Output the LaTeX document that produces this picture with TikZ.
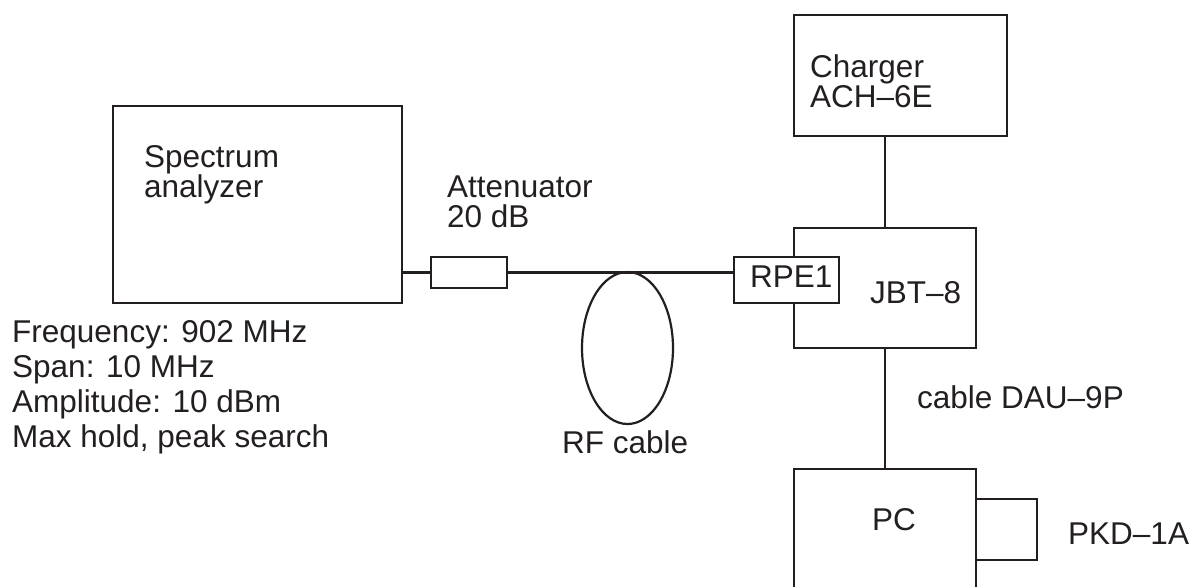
\documentclass[tikz,border=0pt]{standalone}
\usepackage{fontspec}
\setmainfont{Liberation Sans}
\usetikzlibrary{shapes.geometric}
\definecolor{ink}{HTML}{231F20}
\begin{document}
\begin{tikzpicture}[x=1pt,y=-1pt,
  box/.style={draw=ink, line width=2.2pt, rectangle, inner sep=0pt},
  lbl/.style={anchor=base west, inner sep=0pt, text=ink, font=\fontsize{31.5}{30}\selectfont, align=left},
  wire/.style={draw=ink, line width=2.2pt}]
\useasboundingbox (0,0) rectangle (1190,586);
\clip (0,0) rectangle (1190,586);
% boxes
\node[box, minimum width=289pt, minimum height=197pt] (spec) at (257.5,204.5) {};
\node[box, minimum width=76pt, minimum height=31pt] (att) at (469,272.5) {};
\node[draw=ink, line width=2.2pt, ellipse, minimum width=91pt, minimum height=152pt, inner sep=0pt] (loop) at (627.5,348) {};
\node[box, minimum width=213pt, minimum height=121pt] (chg) at (900.5,75.5) {};
\node[box, minimum width=182pt, minimum height=120pt] (jbt) at (885,288) {};
\node[box, fill=white, minimum width=105pt, minimum height=46pt] (rpe) at (786.5,280) {};
\node[box, minimum width=182pt, minimum height=130pt] (pc) at (885,534) {};
\node[box, minimum width=61pt, minimum height=61pt] (pkd) at (1006.5,529.5) {};
% connectors
\draw[wire] (att.west) -- (att.west -| spec.east);
\draw[wire] (att.east) -- (att.east -| rpe.west);
\draw[wire] (jbt.north) -- (jbt.north |- chg.south);
\draw[wire] (jbt.south) -- (pc.north);
% labels (base = baseline of last line)
\node[lbl] (tspec) at (144,197) {Spectrum\\analyzer};
\node[lbl] (tatt) at (447,227) {Attenuator\\20 dB};
\node[lbl] (tchg) at (810,107) {Charger\\ACH–6E};
\node[lbl] (trpe) at (750,287) {RPE1};
\node[lbl] (tjbt) at (870,303) {JBT–8};
\node[lbl] (trf) at (562,453) {RF cable};
\node[lbl] (tcab) at (917,408) {cable DAU–9P};
\node[lbl] (tpc) at (872,530) {PC};
\node[lbl] (tpkd) at (1068,544) {PKD–1A};
\node[lbl, font=\fontsize{31.5}{35}\selectfont] (tset) at (12,447) {Frequency: 902 MHz\\Span: 10 MHz\\Amplitude: 10 dBm\\Max hold, peak search};
\end{tikzpicture}
\end{document}
